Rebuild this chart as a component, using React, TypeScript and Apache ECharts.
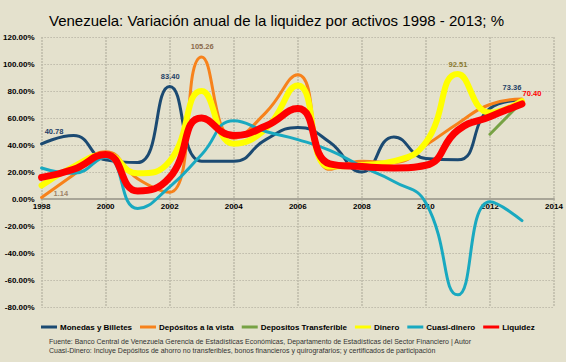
import React, { useEffect, useRef } from "react";
import * as echarts from "echarts";

const years = [1998, 1999, 2000, 2001, 2002, 2003, 2004, 2005, 2006, 2007, 2008, 2009, 2010, 2011, 2012, 2013];
const monedas = [40.78, 47, 29, 27, 83.4, 28, 28, 44, 53, 42, 20, 46, 30, 29, 67, 73.36];
const depVista = [1.14, 18, 35, 15, 5, 105.26, 45, 64, 92, 22, 28, 27, 40, 56, 70, 74];
const depTransf = [null, null, null, null, null, null, null, null, null, null, null, null, null, null, 48, 72];
const dinero = [10, 24, 33, 19, 28, 80, 41, 52, 84, 24, 25, 28, 42, 92.51, 64, 72.5];
const cuasi = [23, 19, 31, -7, 9, 33, 58, 50, 44, 36, 24, 13, -3, -71, -2, -16];
const liquidez = [16, 22, 33, 6, 16, 60, 47, 54, 67, 26, 24, 23, 25, 51, 61, 70.4];
const yTicks = [-80, -60, -40, -20, 0, 20, 40, 60, 80, 100, 120];
const xTicks = [1998, 2000, 2002, 2004, 2006, 2008, 2010, 2012, 2014];

const FONT = "Liberation Sans, Arial, sans-serif";

type LabelSpec = { idx: number; color: string; pos: number[] };

function build(values: (number | null)[], labels: LabelSpec[]) {
  return years.map((y, i) => {
    const v = values[i];
    if (v === null) return [y, null];
    const l = labels.find((s) => s.idx === i);
    if (!l) return [y, v];
    return {
      value: [y, v],
      label: {
        show: true,
        position: l.pos,
        align: "center",
        verticalAlign: "middle",
        color: l.color,
        fontSize: 7.5,
        fontWeight: "bold",
        fontFamily: FONT,
        formatter: (p: any) => Number(p.value[1]).toFixed(2),
      },
    };
  });
}

export default function App() {
  const ref = useRef<HTMLDivElement>(null);
  useEffect(() => {
    if (!ref.current) return;
    const chart = echarts.init(ref.current, null, { renderer: "svg" });
    const lineSeries = (name: string, data: any[], color: string, width: number, z: number) => ({
      name,
      type: "line",
      data,
      smooth: 0.5,
      showSymbol: true,
      symbol: "circle",
      symbolSize: 0,
      connectNulls: false,
      z,
      lineStyle: { color, width, cap: "round", join: "round" },
      itemStyle: { color },
      emphasis: { disabled: true },
      labelLayout: { hideOverlap: false },
    });
    chart.setOption({
      animation: false,
      backgroundColor: "#e4e1cd",
      title: {
        text: "Venezuela: Variación anual de la liquidez por activos 1998 - 2013; %",
        left: 44,
        top: 8,
        textStyle: { fontSize: 15, fontWeight: "normal", color: "#000", fontFamily: FONT },
      },
      grid: { left: 41.5, right: 12, top: 37, bottom: 55, containLabel: false },
      xAxis: {
        type: "value",
        min: 1998,
        max: 2014,
        interval: 2,
        axisLine: { show: true, onZero: true, lineStyle: { color: "#a8a597", width: 2 } },
        axisTick: { show: false },
        axisLabel: {
          color: "#000",
          fontSize: 8,
          fontWeight: "bold",
          fontFamily: FONT,
          margin: -105,
          formatter: (v: number) => (xTicks.includes(v) ? String(v) : ""),
        },
        splitLine: { show: true, lineStyle: { color: "#bdbaa9", width: 1.5, type: [2, 1] } },
      },
      yAxis: {
        type: "value",
        min: -80,
        max: 120,
        interval: 20,
        axisLine: { show: false },
        axisTick: { show: false },
        axisLabel: {
          color: "#000",
          fontSize: 8,
          fontWeight: "bold",
          fontFamily: FONT,
          margin: 7,
          formatter: (v: number) => (yTicks.includes(v) ? v.toFixed(2) + "%" : ""),
        },
        splitLine: { show: true, lineStyle: { color: "#a9a697", width: 1, type: [1, 2] } },
      },
      legend: {
        left: 36,
        top: 318,
        icon: "rect",
        itemWidth: 16,
        itemHeight: 3,
        itemGap: 8,
        textStyle: { fontSize: 8, fontWeight: "bold", color: "#000", fontFamily: FONT, padding: [0, 0, 0, -2] },
        data: ["Monedas y Billetes", "Depósitos a la vista", "Depositos Transferible", "Dinero", "Cuasi-dinero", "Liquidez"],
      },
      graphic: [
        {
          type: "text",
          left: 49,
          top: 338,
          style: {
            text: "Fuente: Banco Central de Venezuela Gerencia de Estadísticas Económicas, Departamento de Estadísticas del Sector Financiero | Autor",
            fontSize: 7,
            fill: "#333",
            fontFamily: FONT,
          },
        },
        {
          type: "text",
          left: 49,
          top: 347,
          style: {
            text: "Cuasi-Dinero: Incluye Depósitos de ahorro no transferibles, bonos financieros y quirografarios; y certificados de participación",
            fontSize: 7,
            fill: "#333",
            fontFamily: FONT,
          },
        },
      ],
      series: [
        lineSeries(
          "Monedas y Billetes",
          build(monedas, [
            { idx: 0, color: "#1f3f66", pos: [12.5, -12] },
            { idx: 4, color: "#1f3f66", pos: [0.5, -9.5] },
            { idx: 15, color: "#1f3f66", pos: [-10, -12] },
          ]),
          "#1b4a72",
          3,
          2
        ),
        lineSeries(
          "Depósitos a la vista",
          build(depVista, [{ idx: 5, color: "#8a6a4c", pos: [0.5, -10] }]),
          "#f7821b",
          3,
          3
        ),
        lineSeries("Depositos Transferible", build(depTransf, []), "#77a244", 3, 4),
        lineSeries(
          "Dinero",
          build(dinero, [{ idx: 13, color: "#8a7a30", pos: [0, -10] }]),
          "#ffff00",
          6,
          5
        ),
        lineSeries("Cuasi-dinero", build(cuasi, []), "#19a9c0", 3, 6),
        lineSeries(
          "Liquidez",
          build(liquidez, [{ idx: 15, color: "#ff0000", pos: [10, -10] }]),
          "#ff0000",
          7,
          7
        ),
        {
          name: "Depósitos a la vista",
          type: "scatter",
          data: [[years[0], depVista[0]]],
          symbolSize: 0,
          z: 10,
          silent: true,
          clip: false,
          itemStyle: { color: "#f7821b" },
          label: {
            show: true,
            position: "right",
            distance: 12,
            offset: [0, -3.5],
            color: "#8a6a4c",
            fontSize: 7.5,
            fontWeight: "bold",
            fontFamily: FONT,
            formatter: (p: any) => Number(p.value[1]).toFixed(2),
          },
        },
      ],
    });
    return () => chart.dispose();
  }, []);
  return (
    <div
      ref={ref}
      style={{ position: "absolute", left: 0, top: 0, width: 566, height: 362, background: "#e4e1cd" }}
    />
  );
}
